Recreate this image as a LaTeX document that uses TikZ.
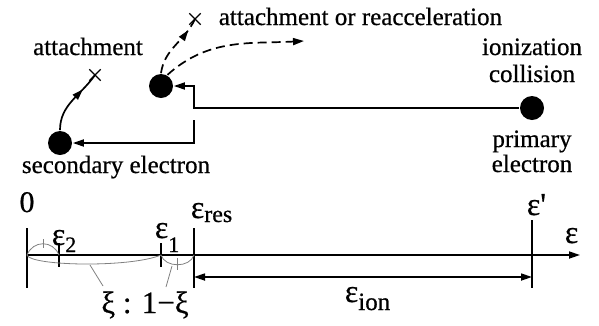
\documentclass[tikz,border=0pt]{standalone}
\usepackage{fontspec}
\setmainfont{Liberation Serif}[FakeBold=0.6]
\usetikzlibrary{arrows.meta,decorations.markings,shapes.misc}
\begin{document}
\begin{tikzpicture}[x=1pt,y=-1pt,
  line width=1.7pt,
  mytip/.tip={Triangle[length=11pt,width=7pt]},
  dot/.style={circle,fill=black,inner sep=0pt,minimum size=24pt},
  xmark/.style={cross out,draw,line width=1.4pt,minimum size=10pt,inner sep=0pt},
  lbl/.style={font=\fontsize{25}{25}\selectfont,inner sep=0pt},
  sym/.style={font=\fontsize{32}{32}\selectfont,inner sep=0pt},
  thingray/.style={line width=0.8pt,gray},
  dsh/.style={dash pattern=on 9pt off 5pt},
  midarrow/.style={postaction={decorate},decoration={markings,mark=at position #1 with {\arrow{mytip}}}}
]
\useasboundingbox (0,0) rectangle (599,325);

% dots and marks
\node[dot] (sec) at (60,143) {};
\node[dot] (mid) at (161,86) {};
\node[dot] (prim) at (532,108) {};
\node[xmark] (x1) at (95,75) {};
\node[xmark] (x2) at (195,19) {};
\coordinate (j1) at (194,108);
\coordinate (j3) at (194,120);
\coordinate (dend) at (304,41);

% connectors
\draw[-mytip] (prim) -- (j1) |- (mid);
\draw[-mytip] (j3) |- (sec);
\draw[midarrow=0.72] (sec.north) to[out=90,in=-125] (x1.center);
\draw[dsh,midarrow=0.8] (mid.north) to[out=82,in=-115] (x2.center);
\draw[dsh,-mytip] (mid.60) to[out=42,in=183] (dend);

% texts
\node[lbl,anchor=base west] (tatt2) at (218,25) {attachment or reacceleration};
\node[lbl,anchor=base] (tatt1) at (88,55) {attachment};
\node[lbl,anchor=base] (tion1) at (532,55) {ionization};
\node[lbl,anchor=base] (tion2) at (532,82) {collision};
\node[lbl,anchor=base] (tpr1) at (532,147) {primary};
\node[lbl,anchor=base] (tpr2) at (532,172) {electron};
\node[lbl,anchor=base] (tsec) at (116,173) {secondary electron};

% axis
\coordinate (a0) at (27,255);
\coordinate (aend) at (580,255);
\draw[-mytip] (a0) -- (aend);
\coordinate (t0a) at (27,228); \coordinate (t0b) at (27,288);
\coordinate (t2a) at (59,243); \coordinate (t2b) at (59,267);
\coordinate (t1a) at (161,243); \coordinate (t1b) at (161,267);
\coordinate (tra) at (194,228); \coordinate (trb) at (194,288);
\coordinate (tpa) at (532,220); \coordinate (tpb) at (532,288);
\draw (t0a) -- (t0b);
\draw (t2a) -- (t2b);
\draw (t1a) -- (t1b);
\draw (tra) -- (trb);
\draw (tpa) -- (tpb);
\coordinate (ia) at (194,277); \coordinate (ib) at (532,277);
\draw[mytip-mytip] (ia) -- (ib);

% gray arcs
\draw[thingray] (27,255) .. controls (33,240) and (53,240) .. (59,255);
\draw[thingray] (43,239) -- (43,248);
\draw[thingray] (27,255) .. controls (30,266) and (130,268) .. (161,255);
\draw[thingray] (161,255) .. controls (165,268) and (190,268) .. (194,255);
\draw[thingray] (177,258) -- (177,270);
\draw[thingray] (90,265) -- (103,286);
\draw[thingray] (172,266) -- (166,287);

% labels
\node[font=\fontsize{30}{30}\selectfont,inner sep=0pt,anchor=base] (l0) at (27,212) {0};
\node[sym,anchor=base west] (le2) at (51,245) {ε\raisebox{-7pt}{\fontsize{22}{22}\selectfont 2}};
\node[sym,anchor=base west] (le1) at (154,238) {ε\raisebox{-14pt}{\fontsize{22}{22}\selectfont 1}};
\node[sym,anchor=base west] (ler) at (190,218) {ε\raisebox{-4pt}{\fontsize{24}{24}\selectfont res}};
\node[sym,anchor=base west] (lep) at (526,215) {ε\textquotesingle};
\node[sym,anchor=base west] (lea) at (564,243) {ε};
\node[sym,anchor=base west] (lei) at (344,302) {ε\raisebox{-8pt}{\fontsize{25}{25}\selectfont ion}};
\node[font=\fontsize{31}{31}\selectfont,inner sep=0pt,anchor=base] (xi) at (145,313) {ξ : 1−ξ};
\end{tikzpicture}
\end{document}
